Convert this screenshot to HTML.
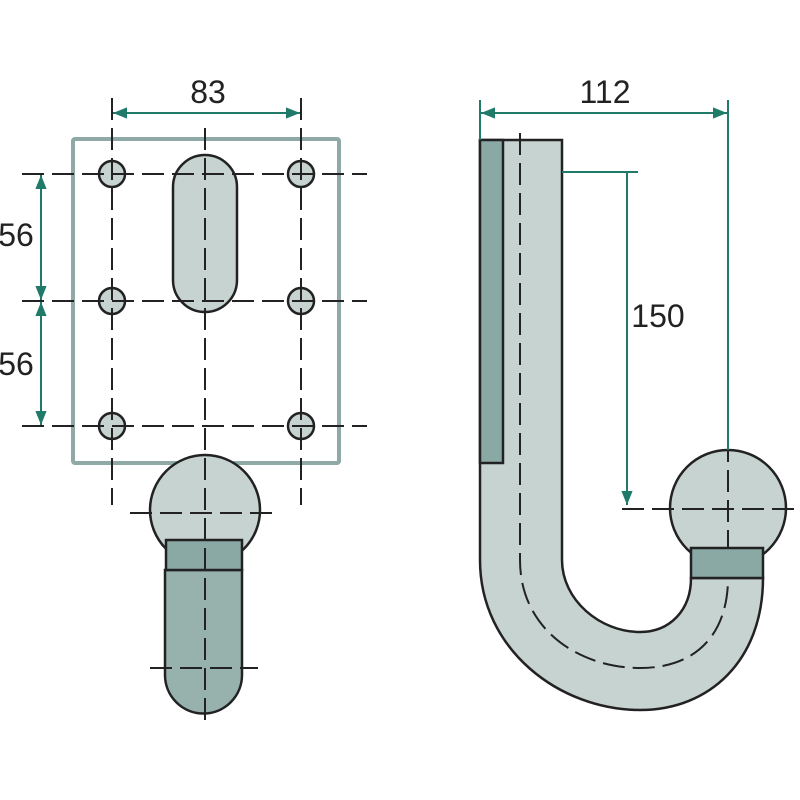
<!DOCTYPE html>
<html><head><style>body{margin:0;background:#fff}svg{display:block}</style></head><body>
<svg width="800" height="800" viewBox="0 0 800 800" xmlns="http://www.w3.org/2000/svg">
<defs>
<marker id="a" viewBox="0 0 10 10" refX="10" refY="5" markerWidth="7" markerHeight="7" orient="auto-start-reverse"><path d="M0,1 L10,5 L0,9 Z" fill="#1f7a6a"/></marker>
</defs>
<g font-family="Liberation Sans, sans-serif" font-size="32" fill="#222">
<text x="208" y="103" text-anchor="middle">83</text>
<text x="16" y="246" text-anchor="middle">56</text>
<text x="16" y="375" text-anchor="middle">56</text>
<text x="605" y="103" text-anchor="middle">112</text>
<text x="658" y="327" text-anchor="middle">150</text>
</g>
<rect x="73" y="139" width="266" height="324" fill="#fff" stroke="#8fa9a6" stroke-width="4" rx="2"/>
<g fill="#c6d3d0" stroke="#222" stroke-width="2.5">
<rect x="173" y="155" width="64" height="157" rx="32"/>
<circle cx="112" cy="174" r="13"/><circle cx="301" cy="174" r="13"/>
<circle cx="112" cy="301" r="13"/><circle cx="301" cy="301" r="13"/>
<circle cx="112" cy="426" r="13"/><circle cx="301" cy="426" r="13"/>
<circle cx="205" cy="510" r="55"/>
</g>
<path d="M165,570 L165,675 A38,38 0 0 0 242,675 L242,570 Z" fill="#97b1ad" stroke="#222" stroke-width="2.5"/>
<rect x="166" y="540" width="76" height="30" fill="#8aa8a4" stroke="#222" stroke-width="2.5"/>
<g stroke="#222" stroke-width="2" stroke-dasharray="22,8" fill="none">
<line x1="22" y1="174" x2="367" y2="174"/>
<line x1="22" y1="301" x2="367" y2="301"/>
<line x1="22" y1="426" x2="367" y2="426"/>
<line x1="112" y1="98" x2="112" y2="505"/>
<line x1="301" y1="98" x2="301" y2="505"/>
<line x1="205" y1="128" x2="205" y2="725"/>
<line x1="130" y1="513" x2="277" y2="513"/>
<line x1="150" y1="668" x2="258" y2="668"/>
</g>
<g stroke="#1f7a6a" stroke-width="2" fill="none">
<line x1="113" y1="113" x2="300" y2="113" marker-start="url(#a)" marker-end="url(#a)"/>
<line x1="41" y1="175" x2="41" y2="300" marker-start="url(#a)" marker-end="url(#a)"/>
<line x1="41" y1="302" x2="41" y2="425" marker-start="url(#a)" marker-end="url(#a)"/>
</g>
<circle cx="728" cy="508" r="58" fill="#c6d3d0" stroke="#222" stroke-width="2.5"/>
<path d="M480,140 L480,560 C480,650 560,710 640,710 C710,710 763,660 763,578 L691,578 C691,610 670,632 640,632 C600,632 562,600 562,560 L562,140 Z" fill="#c6d3d0" stroke="#222" stroke-width="2.5"/>
<rect x="480" y="140" width="23" height="323" fill="#8aa8a4" stroke="#222" stroke-width="2.5"/>
<rect x="691" y="548" width="72" height="30" fill="#8aa8a4" stroke="#222" stroke-width="2.5"/>
<g stroke="#222" stroke-width="2" stroke-dasharray="22,8" fill="none">
<path d="M520,133 L520,560 C520,630 580,668 640,668 C700,668 728,630 728,578"/>
<line x1="622" y1="509" x2="800" y2="509"/>
<line x1="728" y1="440" x2="728" y2="548"/>
</g>
<g stroke="#1f7a6a" stroke-width="2" fill="none">
<line x1="480" y1="100" x2="480" y2="140"/>
<line x1="728" y1="100" x2="728" y2="450"/>
<line x1="481" y1="113" x2="727" y2="113" marker-start="url(#a)" marker-end="url(#a)"/>
<line x1="562" y1="172" x2="638" y2="172"/>
<line x1="627" y1="173" x2="627" y2="505" marker-end="url(#a)"/>
</g>
</svg>
</body></html>
